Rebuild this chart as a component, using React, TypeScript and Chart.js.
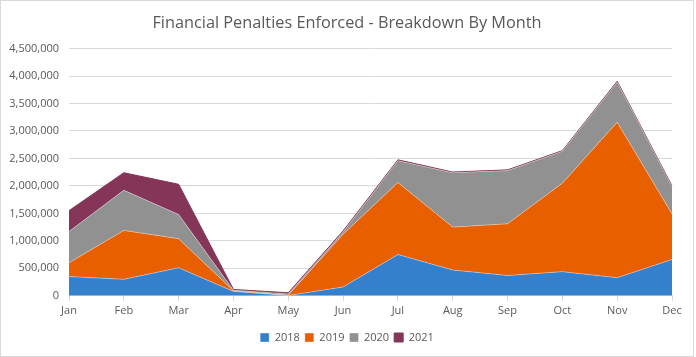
import React, { useEffect, useRef } from "react";
import { Chart, registerables } from "chart.js";

Chart.register(...registerables);

const months = ["Jan", "Feb", "Mar", "Apr", "May", "Jun", "Jul", "Aug", "Sep", "Oct", "Nov", "Dec"];
const series2018 = [350000, 300000, 510000, 80000, 5000, 160000, 750000, 470000, 370000, 440000, 330000, 660000];
const series2019 = [250000, 890000, 530000, 10000, 5000, 960000, 1310000, 780000, 940000, 1610000, 2830000, 830000];
const series2020 = [570000, 730000, 440000, 10000, 25000, 40000, 400000, 990000, 970000, 580000, 730000, 500000];
const series2021 = [380000, 320000, 550000, 15000, 20000, 20000, 15000, 12000, 12000, 12000, 15000, 12000];
const seriesNames = ["2018", "2019", "2020", "2021"];
const seriesColors = ["#3580CC", "#E85F00", "#919191", "#843558"];
const titleText = "Financial Penalties Enforced - Breakdown By Month";
const yMax = 4500000;
const yStep = 500000;

export default function App() {
  const ref = useRef<HTMLCanvasElement | null>(null);
  useEffect(() => {
    if (!ref.current) return;
    const all = [series2018, series2019, series2020, series2021];
    const chart = new Chart(ref.current, {
      type: "line",
      data: {
        labels: months,
        datasets: all.map((d, i) => ({
          label: seriesNames[i],
          data: d,
          backgroundColor: seriesColors[i],
          borderColor: i === 3 ? seriesColors[i] : "rgba(255,255,255,0.45)",
          borderWidth: i === 3 ? 1 : 0.8,
          fill: i === 0 ? "origin" : "-1",
          pointRadius: 0,
          tension: 0,
        })),
      },
      options: {
        animation: false,
        responsive: false,
        maintainAspectRatio: false,
        layout: { padding: { left: 0, right: 0, top: 0, bottom: 3 } },
        plugins: {
          title: {
            display: true,
            text: titleText,
            color: "#595959",
            font: { family: "'Open Sans'", size: 16.3, weight: "normal" },
            padding: { top: 13, bottom: 15 },
          },
          legend: {
            position: "bottom",
            labels: {
              boxWidth: 9,
              boxHeight: 9,
              padding: 5,
              color: "#595959",
              font: { family: "'Open Sans'", size: 11 },
            },
          },
          tooltip: { enabled: false },
        },
        scales: {
          x: {
            grid: { drawOnChartArea: false, drawTicks: true, tickLength: 5, color: "#d9d9d9" },
            border: { color: "#d9d9d9" },
            ticks: { color: "#595959", font: { family: "'Open Sans'", size: 11 }, maxRotation: 0 },
            afterFit: (s: any) => {
              s.height += 7;
            },
          },
          y: {
            stacked: true,
            min: 0,
            max: yMax,
            border: { display: false },
            grid: { color: "#d9d9d9", drawTicks: false },
            ticks: {
              stepSize: yStep,
              padding: 10,
              color: "#595959",
              font: { family: "'Open Sans'", size: 11 },
              callback: (v: any) => Number(v).toLocaleString("en-US"),
            },
            afterFit: (s: any) => {
              s.width = 68;
            },
          },
          yRight: {
            position: "right",
            display: true,
            min: 0,
            max: yMax,
            border: { display: false },
            grid: { display: false },
            ticks: { display: false },
            afterFit: (s: any) => {
              s.width = 21;
            },
          },
        },
      },
    });
    return () => chart.destroy();
  }, []);
  return (
    <div
      style={{
        position: "fixed",
        left: 0,
        top: 0,
        width: 694,
        height: 357,
        boxSizing: "border-box",
        border: "1px solid #d9d9d9",
        background: "#fff",
      }}
    >
      <canvas ref={ref} width={692} height={355} style={{ display: "block" }} />
    </div>
  );
}
